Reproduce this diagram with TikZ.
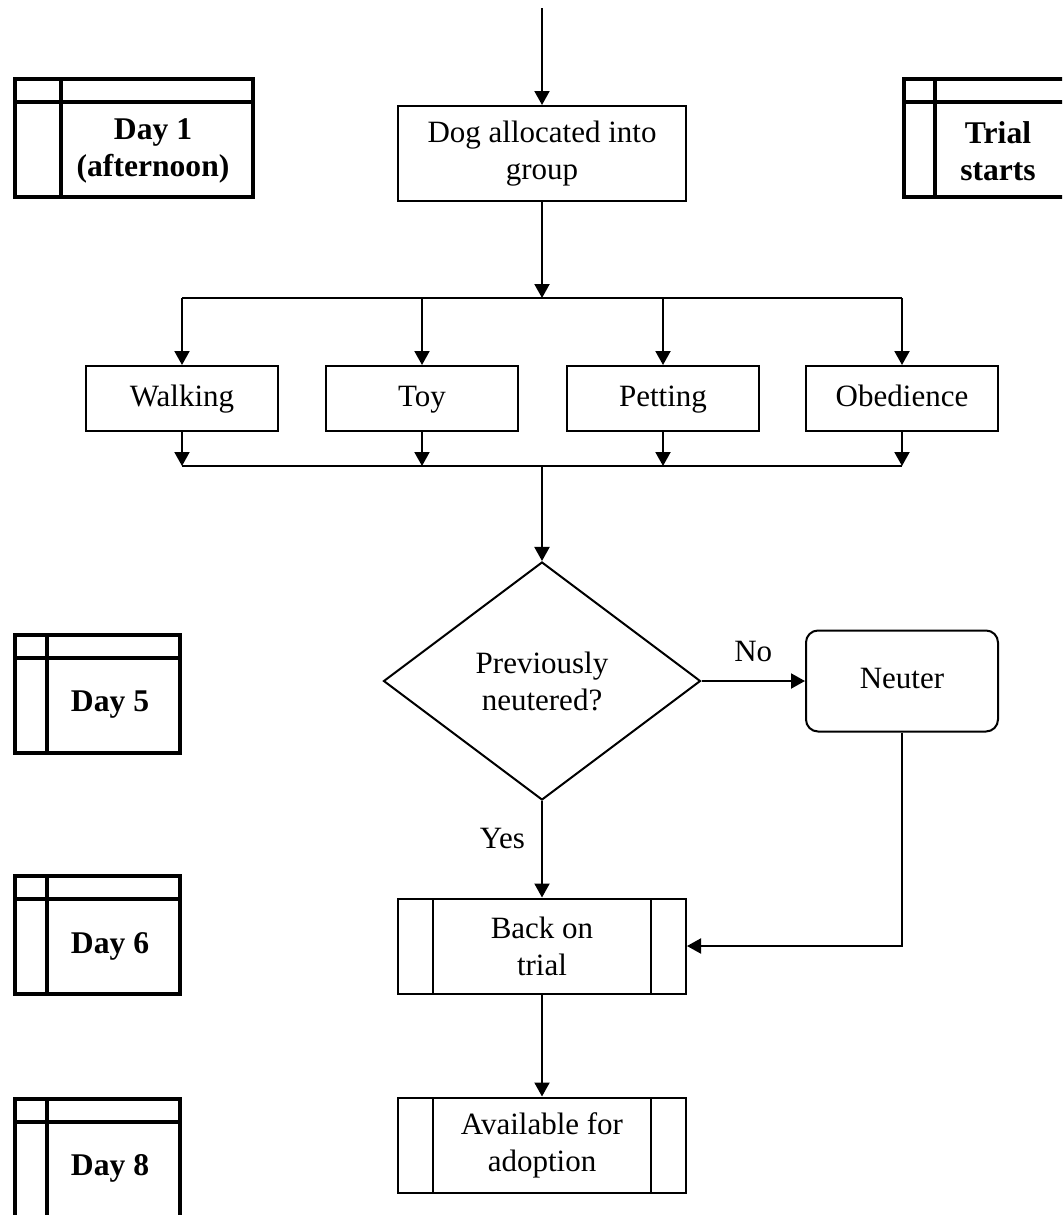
\documentclass[tikz,border=0pt]{standalone}
\usepackage{fontspec}
\setmainfont{Liberation Serif}
\usetikzlibrary{shapes.geometric,arrows.meta}

\begin{document}
\begin{tikzpicture}[x=0.5pt, y=-0.5pt, line width=1pt,
    every node/.style={font=\fontsize{15.5}{18.5}\selectfont, align=center, inner sep=0pt},
    arr/.style={-{Triangle[length=7pt,width=7.5pt]}},
    stepbox/.style={draw, minimum width=96pt, minimum height=32.5pt, text height=10.5pt, text depth=3pt},
    flowbox/.style={draw, minimum width=144pt, minimum height=47.5pt},
    subproc/.style={flowbox, path picture={
        \draw ([xshift=17.5pt]path picture bounding box.north west) -- ([xshift=17.5pt]path picture bounding box.south west);
        \draw ([xshift=-17.5pt]path picture bounding box.north east) -- ([xshift=-17.5pt]path picture bounding box.south east);}},
    decision/.style={draw, diamond, minimum width=158.5pt, minimum height=119pt},
    roundbox/.style={draw, rounded corners=6pt, minimum width=96pt, minimum height=50.5pt, text height=10.5pt, text depth=3pt},
    daybox/.style={draw, line width=2pt, minimum height=59pt, path picture={
        \draw[line width=2pt] ([xshift=#1]path picture bounding box.north west) -- ([xshift=#1]path picture bounding box.south west);
        \draw[line width=2pt] ([yshift=-11.5pt]path picture bounding box.north west) -- ([yshift=-11.5pt]path picture bounding box.north east);}},
    daytext/.style={font=\fontsize{15.8}{18.5}\selectfont\bfseries}]
    \clip (0,0) rectangle (1062,1215);

    % time line on the left and right
    \node[daybox=23pt, minimum width=119pt] (d1) at (134,138) {};
    \node[daytext] (d1t) at (153,151) {Day 1\\(afternoon)};
    \node[daybox=15.5pt, minimum width=98pt] (ts) at (1002,138) {};
    \node[daytext] (tst) at (998,151) {Trial\\starts};
    \node[daybox=16pt, minimum width=82.5pt] (d5) at (97.5,694) {};
    \node[daytext] (d5t) at (110,705) {Day 5};
    \node[daybox=16pt, minimum width=82.5pt] (d6) at (97.5,935) {};
    \node[daytext] (d6t) at (110,946) {Day 6};
    \node[daybox=16pt, minimum width=82.5pt] (d8) at (97.5,1158) {};
    \node[daytext] (d8t) at (110,1168) {Day 8};

    % main flow
    \coordinate (top) at (542,8);
    \node[flowbox] (dog) at (542,153.5) {Dog allocated into\\group};
    \coordinate (split) at (542,298);
    \coordinate (merge) at (542,466);
    \draw[arr] (top) -- (dog);
    \draw[arr] (dog) -- (split);

    \foreach \nm/\x/\txt in {walk/182/Walking, toy/422/Toy, pet/663/Petting, obey/902/Obedience} {
        \node[stepbox] (\nm) at (\x,398.5) {\txt};
        \draw[arr] (\nm|-split) -- (\nm);
        \draw[arr] (\nm) -- (\nm|-merge);
    }
    \draw (walk|-split) -- (obey|-split);
    \draw (walk|-merge) -- (obey|-merge);

    \node[decision] (ask) at (542,681) {Previously\\neutered?};
    \draw[arr] (merge) -- (ask);

    \node[roundbox] (neuter) at (902,681) {Neuter};
    \draw[arr] (ask) -- node[above=9pt] (no) {No} (neuter);

    \node[subproc] (back) at (542,946) {Back on\\trial};
    \draw[arr] (ask) -- node[pos=0.39, left=8pt] (yes) {Yes} (back);
    \draw[arr] (neuter) |- (back);

    \node[subproc] (avail) at (542,1145) {Available for\\adoption};
    \draw[arr] (back) -- (avail);
\end{tikzpicture}
\end{document}
